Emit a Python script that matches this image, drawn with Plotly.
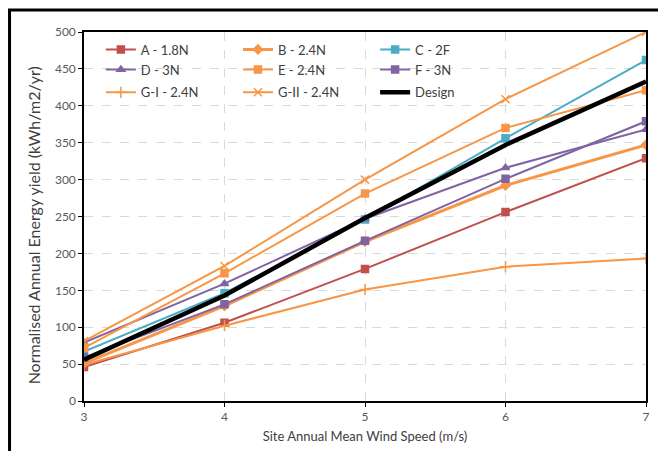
import plotly.graph_objects as go

x = [3, 4, 5, 6, 7]
A = [46, 106, 179, 256, 329]
B = [51, 129, 216, 292, 347]
C = [67, 146, 246, 356, 462]
D = [79, 159, 247, 316, 368]
E = [72, 173, 281, 370, 421]
F = [59, 131, 217, 301, 379]
GI = [49, 102, 151, 182, 193]
GII = [81, 183, 300, 409, 500]
Design = [56, 143, 248, 347, 433]

series = [
    ("A - 1.8N", A, "#C0504D", 2, "square", 7),
    ("B - 2.4N", B, "#F79646", 3, "diamond", 7),
    ("C - 2F", C, "#4BACC6", 2, "square", 7),
    ("D - 3N", D, "#8064A2", 2, "triangle-up", 7),
    ("E - 2.4N", E, "#F79646", 2, "square", 7),
    ("F - 3N", F, "#8064A2", 2, "square", 7),
    ("G-I - 2.4N", GI, "#F79646", 2, "cross-thin-open", 8),
    ("G-II - 2.4N", GII, "#F79646", 2, "x-thin-open", 8),
    ("Design", Design, "#000000", 4.5, None, 0),
]

font = "Lato, 'Open Sans', sans-serif"
col_x = [0.03, 0.274, 0.518]
row_y = [0.9932, 0.939, 0.877]

fig = go.Figure()
legends = {}
for i, (name, vals, color, w, sym, ms) in enumerate(series):
    key = "legend" if i == 0 else f"legend{i + 1}"
    mode = "lines+markers" if sym else "lines"
    fig.add_trace(go.Scatter(
        x=x, y=vals, name=name, mode=mode, legend=key, showlegend=True,
        line=dict(color=color, width=w),
        marker=dict(symbol=sym or "circle", size=ms, color=color,
                    line=dict(color=color, width=1.5)),
    ))
    legends[key] = dict(x=col_x[i % 3], y=row_y[i // 3], xanchor="left", yanchor="top",
                        bgcolor="rgba(0,0,0,0)", itemwidth=30,
                        font=dict(family=font, size=13, color="#404040"))

fig.update_layout(
    width=658, height=451,
    showlegend=True,
    margin=dict(l=84, r=8, t=32, b=50),
    paper_bgcolor="white", plot_bgcolor="white",
    font=dict(family=font, size=12, color="#595959"),
    xaxis=dict(range=[3, 7], tickvals=[3, 4, 5, 6, 7], showgrid=True,
               gridcolor="#D9D9D9", griddash="dash", gridwidth=1,
               showline=True, linecolor="#000000", linewidth=1.5, mirror=True,
               ticks="outside", ticklen=4, tickcolor="#000000", zeroline=False,
               title=dict(text="Site Annual Mean Wind Speed (m/s)",
                          font=dict(size=13, color="#404040"), standoff=9),
               tickfont=dict(size=12, color="#595959")),
    yaxis=dict(range=[0, 500], dtick=50, showgrid=True,
               gridcolor="#D9D9D9", griddash="dash", gridwidth=1,
               showline=True, linecolor="#000000", linewidth=1.5, mirror=True,
               ticks="outside", ticklen=4, tickcolor="#000000", zeroline=False,
               tickfont=dict(size=12, color="#595959")),
    annotations=[dict(text="Normalised Annual Energy yield (kWh/m2/yr)",
                      xref="paper", yref="paper", x=-0.0883, y=0.477,
                      xanchor="center", yanchor="middle", textangle=-90,
                      showarrow=False, font=dict(family=font, size=16, color="#404040"))],
    shapes=[dict(type="rect", xref="paper", yref="paper",
                 x0=-0.1325, x1=1.05, y0=-0.2, y1=1.0596,
                 line=dict(color="#000000", width=3), fillcolor="rgba(0,0,0,0)",
                 layer="above")],
)
fig.update_layout(**legends)

fig.write_html("out.html")
